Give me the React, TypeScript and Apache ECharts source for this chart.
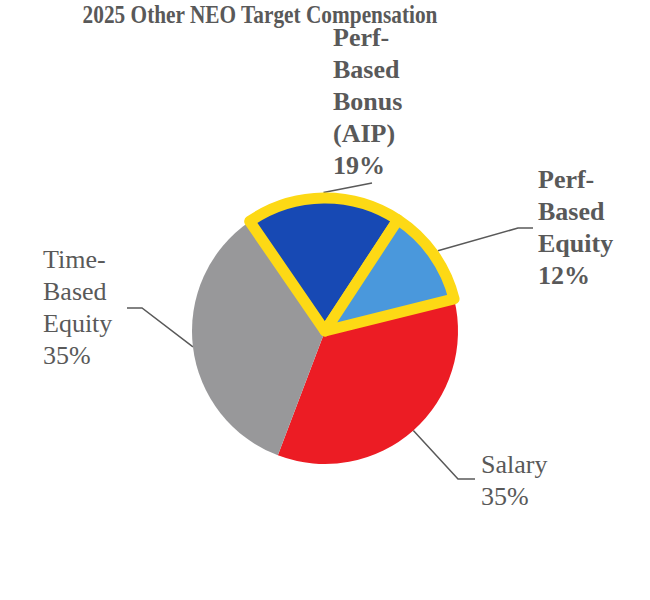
import React, { useEffect, useRef } from "react";
import * as echarts from "echarts";

const titleText = "2025 Other NEO Target Compensation";
const categories = ["Salary", "Time-Based Equity", "Perf-Based Bonus (AIP)", "Perf-Based Equity"];
const values = [35, 35, 19, 12];
const sliceColors = ["#EC1C24", "#98989A", "#1749B4", "#4A98DC"];
const highlighted = [false, false, true, true];

const FONT = "serif";
const TEXT = "#595959";
const CX = 325;
const CY = 331;
const R = 133;
const BORDER = 11;

// label placement (layout only)
const labelPos = [
  { x: 481, y: 480, va: "middle", bend: [458, 479], end: [475, 479] },
  { x: 43, y: 307, va: "middle", bend: [142, 308], end: [127, 308] },
  { x: 333, y: 181, va: "bottom", bend: [372, 183], end: [372, 183] },
  { x: 538, y: 227, va: "middle", bend: [518, 228], end: [533, 228] },
];

const fmtName = (n: string) => n.replace(/-/g, "-\n").replace(/ /g, "\n");

export default function App() {
  const ref = useRef<HTMLDivElement>(null);
  useEffect(() => {
    if (!ref.current) return;
    const chart = echarts.init(ref.current, null, { renderer: "svg" });
    const data = categories.map((name, i) => ({
      name,
      value: values[i],
      itemStyle: {
        color: sliceColors[i],
        borderColor: highlighted[i] ? "#FDD915" : "transparent",
        borderWidth: highlighted[i] ? BORDER : 0,
        borderJoin: "round",
      },
      label: {
        fontWeight: highlighted[i] ? "bold" : "normal",
      },
    }));
    chart.setOption({
      animation: false,
      backgroundColor: "#ffffff",
      graphic: [
        {
          type: "text",
          x: 260,
          y: 14,
          scaleX: 0.82,
          style: {
            text: titleText,
            fontFamily: FONT,
            fontSize: 26,
            fontWeight: "bold",
            lineHeight: 20,
            fill: TEXT,
            align: "center",
            verticalAlign: "middle",
          },
        },
      ],
      series: [
        {
          type: "pie",
          center: [CX, CY],
          radius: R,
          startAngle: 14,
          clockwise: true,
          data,
          label: {
            show: true,
            position: "outside",
            formatter: (p: any) => `${fmtName(p.name)}\n${p.value}%`,
            fontFamily: FONT,
            fontSize: 26,
            lineHeight: 32,
            color: TEXT,
            align: "left",
          },
          labelLine: {
            show: true,
            length: 20,
            length2: 15,
            lineStyle: { color: TEXT, width: 1.5 },
          },
          emphasis: { disabled: true },
          labelLayout: (params: any) => {
            const i = params.dataIndex;
            const pos = labelPos[i];
            let p0 = params.labelLinePoints ? params.labelLinePoints[0] : [CX, CY];
            const ang = Math.atan2(p0[1] - CY, p0[0] - CX);
            const rr = R + (highlighted[i] ? BORDER / 2 : 0);
            p0 = [CX + rr * Math.cos(ang), CY + rr * Math.sin(ang)];
            return {
              x: pos.x,
              y: pos.y,
              align: "left",
              verticalAlign: pos.va,
              labelLinePoints: [p0, pos.bend, pos.end],
            };
          },
        },
      ],
    });
    return () => chart.dispose();
  }, []);
  return (
    <div
      ref={ref}
      style={{ position: "fixed", left: 0, top: 0, width: 650, height: 600 }}
    />
  );
}
